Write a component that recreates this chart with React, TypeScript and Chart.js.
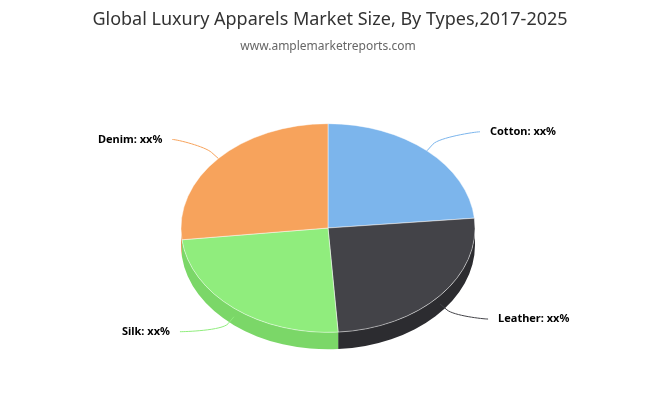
import React, { useEffect, useRef } from "react";
import { Chart, registerables } from "chart.js";

Chart.register(...registerables);

// Market share by apparel type
const categories = ["Cotton", "Leather", "Silk", "Denim"];
const shares = [23.5, 25.4, 24.3, 26.8];
const labelTexts = ["Cotton: xx%", "Leather: xx%", "Silk: xx%", "Denim: xx%"];
const topColors = ["#7cb5ec", "#434348", "#90ed7d", "#f7a35c"];
const sideColors = ["#6fa2d4", "#2c2c30", "#7bd768", "#de9352"];
const titleText = "Global Luxury Apparels Market Size, By Types,2017-2025";
const subtitleText = "www.amplemarketreports.com";

// Perspective of the tilted pie
const TILT = 0.71;
const DEPTH = 17;

function arcGeom(chart: any) {
  const meta = chart.getDatasetMeta(0);
  return meta.data.map((el: any) =>
    el.getProps(["x", "y", "startAngle", "endAngle", "outerRadius"], true)
  );
}

const tiltPlugin = {
  id: "tilt3d",
  beforeDatasetsDraw(chart: any) {
    const ctx = chart.ctx as CanvasRenderingContext2D;
    const arcs = arcGeom(chart);
    if (!arcs.length) return;
    const cx = arcs[0].x;
    const cy = arcs[0].y;
    const r = arcs[0].outerRadius;
    const ry = r * TILT;
    // visible front walls
    arcs.forEach((a: any, i: number) => {
      const a1 = Math.max(a.startAngle, 0);
      const a2 = Math.min(a.endAngle, Math.PI);
      if (a2 <= a1) return;
      ctx.beginPath();
      ctx.ellipse(cx, cy, r, ry, 0, a1, a2, false);
      ctx.ellipse(cx, cy + DEPTH, r, ry, 0, a2, a1, true);
      ctx.closePath();
      ctx.fillStyle = sideColors[i];
      ctx.fill();
    });
    ctx.save();
    ctx.translate(cx, cy);
    ctx.scale(1, TILT);
    ctx.translate(-cx, -cy);
  },
  afterDatasetsDraw(chart: any) {
    const ctx = chart.ctx as CanvasRenderingContext2D;
    ctx.restore();
    const arcs = arcGeom(chart);
    if (!arcs.length) return;
    const cx = arcs[0].x;
    const cy = arcs[0].y;
    const r = arcs[0].outerRadius;
    const ry = r * TILT;
    ctx.save();
    ctx.font = "bold 11px 'Noto Sans'";
    ctx.textBaseline = "middle";
    arcs.forEach((a: any, i: number) => {
      const mid = (a.startAngle + a.endAngle) / 2;
      const c = Math.cos(mid);
      const s = Math.sin(mid);
      const front = s > 0;
      const right = c >= 0;
      const ex = cx + r * c;
      const ey = cy + ry * s + (front ? DEPTH / 2 : 0);
      const bx = ex + 9 * c;
      const by = ey + 9 * s;
      const lx = ex + (right ? (front ? 58 : 63) : (front ? -64 : -56));
      const ly = ey + (front ? 15 : -19);
      const endX = lx + (right ? -10 : 10);
      ctx.beginPath();
      ctx.moveTo(endX, ly);
      ctx.bezierCurveTo(endX + (right ? -5 : 5), ly, 2 * bx - ex, 2 * by - ey, bx, by);
      ctx.lineTo(ex, ey);
      ctx.strokeStyle = topColors[i];
      ctx.lineWidth = 1;
      ctx.stroke();
      ctx.fillStyle = "#000000";
      ctx.textAlign = right ? "left" : "right";
      ctx.fillText(labelTexts[i], lx, ly);
    });
    ctx.restore();
  },
  afterDraw(chart: any) {
    const ctx = chart.ctx as CanvasRenderingContext2D;
    ctx.save();
    ctx.textAlign = "center";
    ctx.textBaseline = "alphabetic";
    ctx.fillStyle = "#333333";
    ctx.font = "18px 'Noto Sans'";
    ctx.fillText(titleText, 330, 25, 505);
    ctx.fillStyle = "#666666";
    ctx.font = "12px 'Noto Sans'";
    ctx.fillText(subtitleText, 328, 50, 176);
    ctx.restore();
  },
};

export default function App() {
  const ref = useRef<HTMLCanvasElement | null>(null);
  useEffect(() => {
    document.body.style.margin = "0";
    if (!ref.current) return;
    const chart = new Chart(ref.current, {
      type: "pie",
      data: {
        labels: categories,
        datasets: [
          {
            data: shares,
            backgroundColor: topColors,
            borderColor: "rgba(255,255,255,0.55)",
            borderWidth: 1,
            radius: 147,
          },
        ],
      },
      options: {
        animation: false,
        responsive: false,
        maintainAspectRatio: false,
        layout: { padding: { left: 0, right: 4, top: 56, bottom: 0 } },
        plugins: {
          legend: { display: false },
          tooltip: { enabled: false },
          title: { display: false },
        },
      },
      plugins: [tiltPlugin],
    });
    return () => chart.destroy();
  }, []);
  return (
    <div style={{ position: "absolute", left: 0, top: 0, width: 660, height: 400, background: "#ffffff" }}>
      <canvas ref={ref} width={660} height={400} style={{ width: 660, height: 400 }} />
    </div>
  );
}
